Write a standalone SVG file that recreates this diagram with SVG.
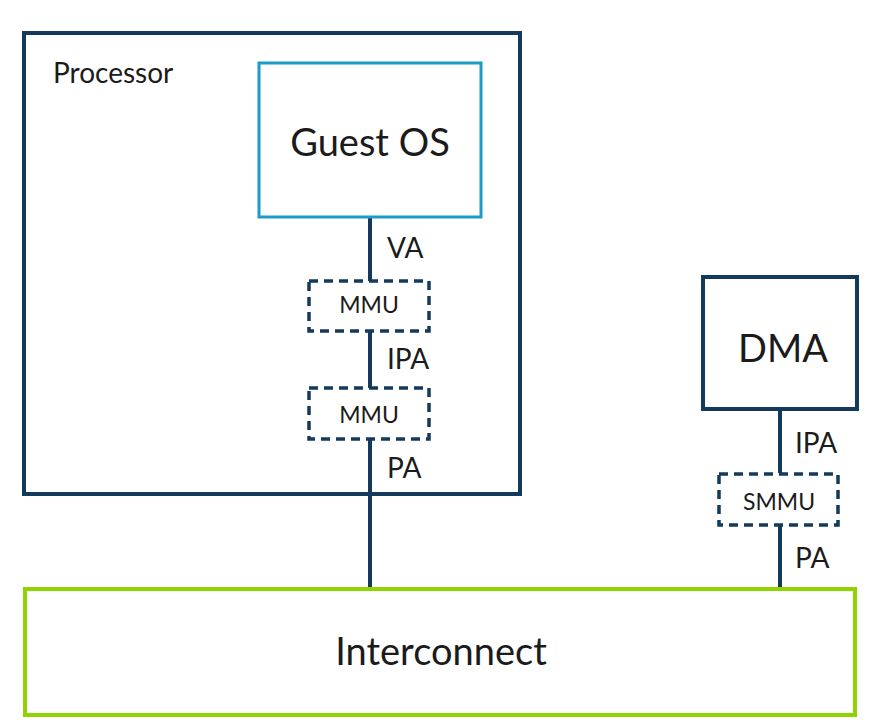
<svg xmlns="http://www.w3.org/2000/svg" width="875" height="727" viewBox="0 0 875 727">
<style>
.t{font-family:Lato,"Liberation Sans",sans-serif;fill:#1b1b1b}
.solid{fill:#fff;stroke:#133a5c;stroke-width:4}
.dash{fill:#fff;stroke:#133a5c;stroke-width:3.5;stroke-dasharray:9 6}
.ln{stroke:#133a5c;stroke-width:4;fill:none}
.lbl{font-size:28px}
.box{font-size:23px;text-anchor:middle}
</style>
<rect width="875" height="727" fill="#fff"/>
<g id="processor">
<rect class="solid" x="24" y="33" width="496" height="461"/>
<text class="t" x="53" y="83" font-size="28">Processor</text>
</g>
<g id="interconnect">
<rect x="25" y="589" width="830" height="126" fill="#fff" stroke="#8fd400" stroke-width="4"/>
<text class="t" x="441" y="665" font-size="38" text-anchor="middle">Interconnect</text>
</g>
<g id="connectors">
<line class="ln" x1="370" y1="218" x2="370" y2="281"/>
<line class="ln" x1="370" y1="332" x2="370" y2="388"/>
<line class="ln" x1="370" y1="440" x2="370" y2="587"/>
<line class="ln" x1="780" y1="410" x2="780" y2="473"/>
<line class="ln" x1="780" y1="525" x2="780" y2="587"/>
</g>
<g id="guestos">
<rect x="259" y="63" width="222" height="154" fill="#fff" stroke="#1a9bc9" stroke-width="3"/>
<text class="t" x="370" y="156" font-size="38" text-anchor="middle">Guest OS</text>
</g>
<g id="mmu1">
<rect class="dash" x="309" y="281" width="120" height="50"/>
<text class="t box" x="369" y="313">MMU</text>
</g>
<g id="mmu2">
<rect class="dash" x="309" y="388" width="120" height="51"/>
<text class="t box" x="369" y="423">MMU</text>
</g>
<g id="dma">
<rect class="solid" x="703" y="277" width="154" height="132"/>
<text class="t" x="783" y="362" font-size="38" text-anchor="middle">DMA</text>
</g>
<g id="smmu">
<rect class="dash" x="719" y="474" width="119" height="51"/>
<text class="t box" x="779" y="510">SMMU</text>
</g>
<g id="labels">
<text class="t lbl" x="387" y="258">VA</text>
<text class="t lbl" x="387" y="369">IPA</text>
<text class="t lbl" x="387" y="478">PA</text>
<text class="t lbl" x="795" y="453">IPA</text>
<text class="t lbl" x="795" y="568">PA</text>
</g>
</svg>
